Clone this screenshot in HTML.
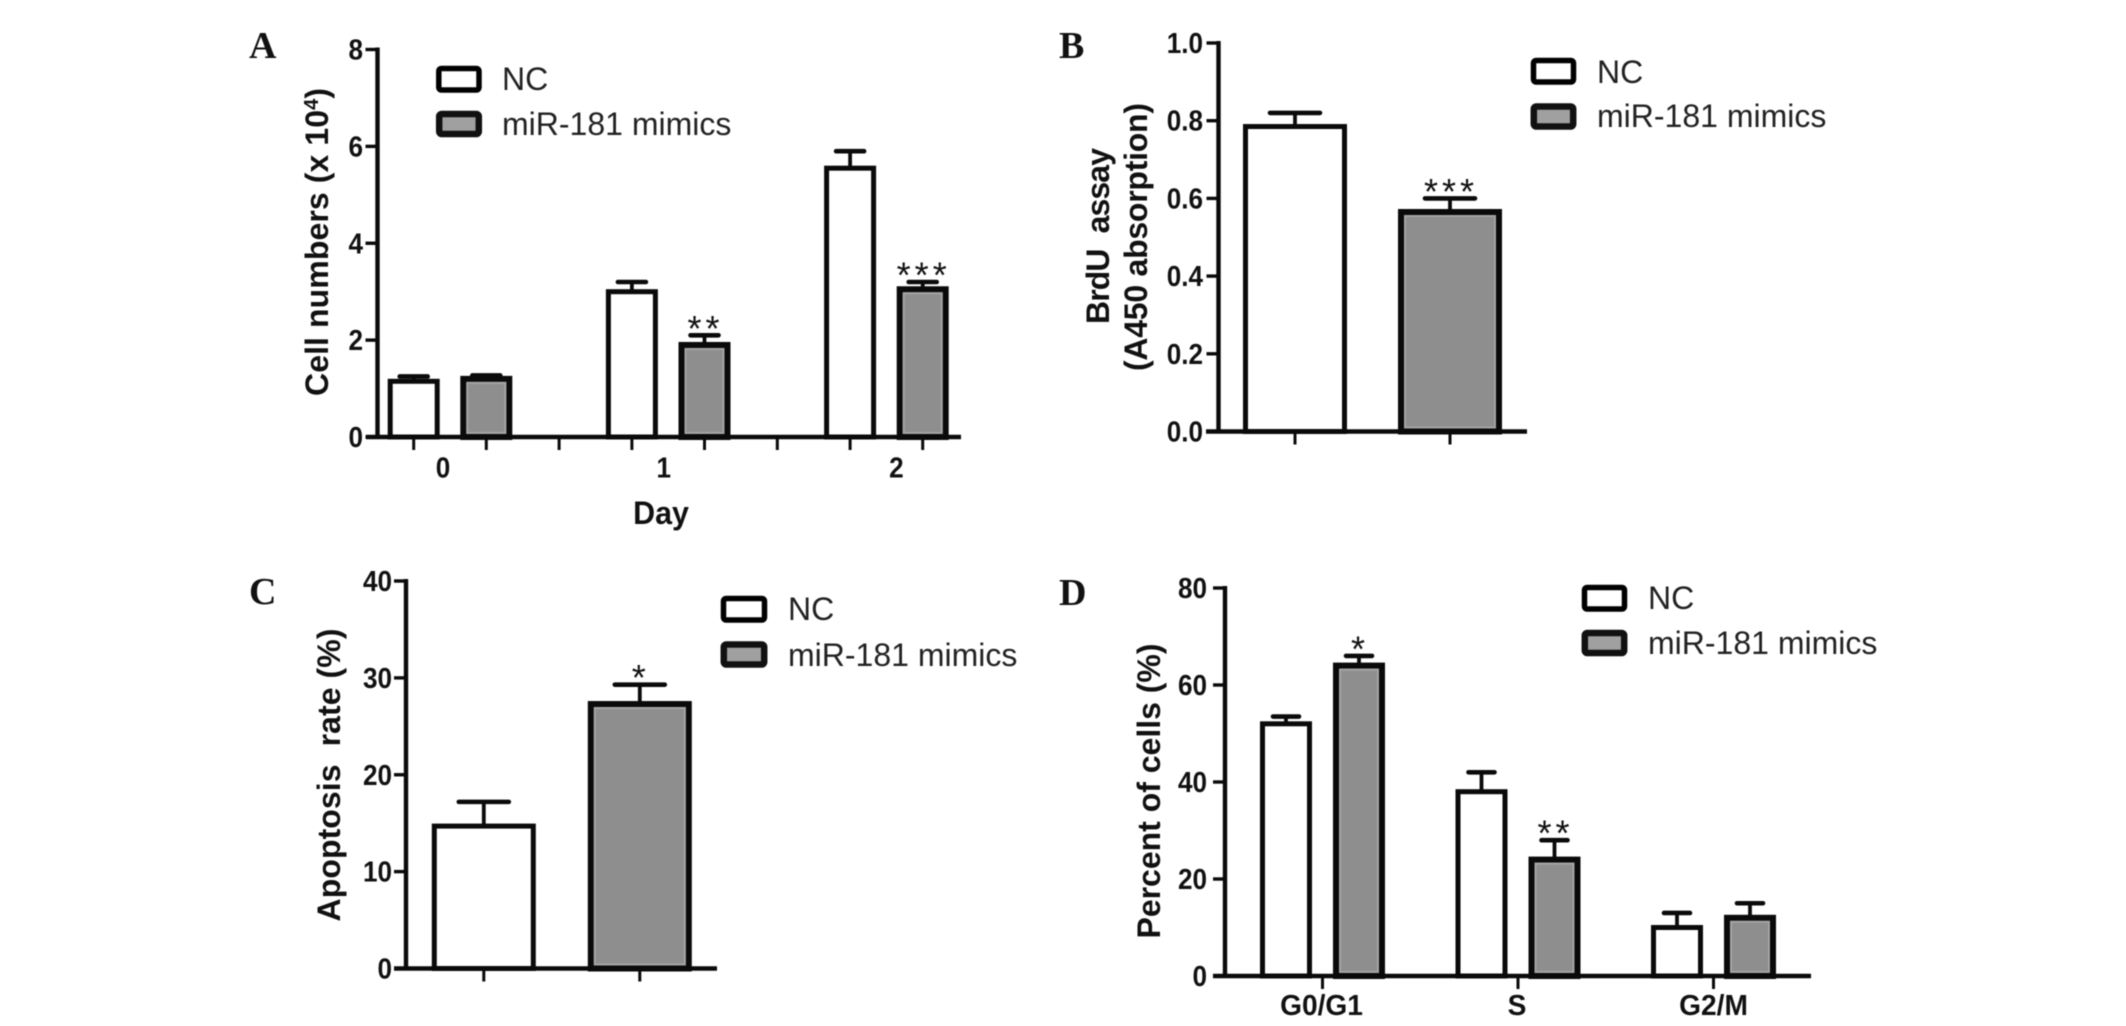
<!DOCTYPE html>
<html lang="en">
<head>
<meta charset="utf-8">
<title>miR-181 mimics cell proliferation, apoptosis and cell cycle charts</title>
<style>
  html, body { margin: 0; padding: 0; background: #fff; }
  #figure { display: block; width: 2126px; height: 1026px; background: #fff; filter: blur(0.5px); }
  text { font-family: "Liberation Sans", Arial, sans-serif; fill: #111; white-space: pre; }
  .panel-letter { font-family: "Liberation Serif", "Times New Roman", serif; font-weight: 700; font-size: 38px; }
  .axis-title { font-weight: 700; font-size: 32px; text-anchor: middle; }
  .legend-label { font-size: 32px; fill: #222; }
  .tick-label { font-weight: 700; font-size: 29px; }
  .swatch-nc { fill: #fff; stroke: #000; stroke-width: 5.5; }
  .swatch-mimic { fill: #a0a0a0; stroke: #111; stroke-width: 6.5; }
</style>
</head>
<body>
<svg id="figure" xmlns="http://www.w3.org/2000/svg" width="2126" height="1026" viewBox="0 0 2126 1026">

  <g id="panel-a">
    <text class="panel-letter" x="249" y="58">A</text>
    <text class="axis-title" transform="translate(328,242) rotate(-90)" textLength="308" lengthAdjust="spacing">Cell numbers (x 10<tspan dy="-10" font-size="20">4</tspan><tspan dy="10">)</tspan></text>
    <text class="axis-title" transform="translate(661,524) scale(0.95,1)" style="font-size:32px">Day</text>
    <g>
      <rect class="swatch-nc" x="438.8" y="68.5" width="40.2" height="21.5" rx="2.5"/>
      <text class="legend-label" x="502" y="90">NC</text>
      <rect class="swatch-mimic" x="439.2" y="114" width="39.6" height="20" rx="2.5"/>
      <text class="legend-label" x="502" y="135">miR-181 mimics</text>
    </g>
  </g>

  <g id="panel-b">
    <text class="panel-letter" x="1059" y="58">B</text>
    <text class="axis-title" transform="translate(1109,236) rotate(-90)" textLength="176" lengthAdjust="spacing">BrdU  assay</text>
    <text class="axis-title" transform="translate(1147,237) rotate(-90)" textLength="268" lengthAdjust="spacing">(A450 absorption)</text>
    <g>
      <rect class="swatch-nc" x="1533.5" y="60.5" width="40" height="21.5" rx="2.5"/>
      <text class="legend-label" x="1597" y="83">NC</text>
      <rect class="swatch-mimic" x="1533.8" y="106.5" width="39.4" height="20" rx="2.5"/>
      <text class="legend-label" x="1597" y="127">miR-181 mimics</text>
    </g>
  </g>

  <g id="panel-c">
    <text class="panel-letter" x="249" y="604">C</text>
    <text class="axis-title" transform="translate(340,775) rotate(-90)" textLength="293" lengthAdjust="spacing">Apoptosis  rate (%)</text>
    <g>
      <rect class="swatch-nc" x="723.5" y="598.5" width="41" height="21.5" rx="2.5"/>
      <text class="legend-label" x="788" y="620">NC</text>
      <rect class="swatch-mimic" x="723.8" y="644.5" width="40.4" height="20" rx="2.5"/>
      <text class="legend-label" x="788" y="666">miR-181 mimics</text>
    </g>
  </g>

  <g id="panel-d">
    <text class="panel-letter" x="1059" y="605">D</text>
    <text class="axis-title" transform="translate(1160,791) rotate(-90)" textLength="295" lengthAdjust="spacing">Percent of cells (%)</text>
    <g>
      <rect class="swatch-nc" x="1584.5" y="587.5" width="40" height="21.5" rx="2.5"/>
      <text class="legend-label" x="1648" y="609">NC</text>
      <rect class="swatch-mimic" x="1584.8" y="633" width="39.4" height="20" rx="2.5"/>
      <text class="legend-label" x="1648" y="654">miR-181 mimics</text>
    </g>
  </g>
</svg>

<script>
// Panel A: cell numbers by day
const panelACategories = ['0', '1', '2'];
const panelATicks = ['0', '2', '4', '6', '8'];
const panelANc = [1.15, 3.0, 5.55];
const panelANcError = [0.1, 0.2, 0.35];
const panelAMimics = [1.2, 1.9, 3.05];
const panelAMimicsError = [0.07, 0.2, 0.15];
const panelAMarks = ['', '**', '***'];

// Panel B: BrdU assay
const panelBCategories = [''];
const panelBTicks = ['0.0', '0.2', '0.4', '0.6', '0.8', '1.0'];
const panelBNc = [0.785];
const panelBNcError = [0.035];
const panelBMimics = [0.565];
const panelBMimicsError = [0.035];
const panelBMarks = ['***'];

// Panel C: apoptosis rate
const panelCCategories = [''];
const panelCTicks = ['0', '10', '20', '30', '40'];
const panelCNc = [14.7];
const panelCNcError = [2.5];
const panelCMimics = [27.3];
const panelCMimicsError = [2.0];
const panelCMarks = ['*'];

// Panel D: percent of cells by cell-cycle phase
const panelDCategories = ['G0/G1', 'S', 'G2/M'];
const panelDTicks = ['0', '20', '40', '60', '80'];
const panelDNc = [52, 38, 10];
const panelDNcError = [1.5, 4, 3];
const panelDMimics = [64, 24, 12];
const panelDMimicsError = [2, 4, 3];
const panelDMarks = ['*', '**', ''];

const SVG_NS = 'http://www.w3.org/2000/svg';

function shape(parent, tag, attrs) {
  const el = document.createElementNS(SVG_NS, tag);
  for (const key in attrs) el.setAttribute(key, attrs[key]);
  parent.appendChild(el);
  return el;
}

function linearScale(domainMax, pxBottom, pxTop) {
  return function (v) { return pxBottom - (v / domainMax) * (pxBottom - pxTop); };
}

function drawPanel(id, data, layout) {
  const root = document.getElementById(id);
  const ticks = data.ticks.map(Number);
  const y = linearScale(Math.max.apply(null, ticks), layout.yBottom, layout.yTop);
  const groupX = function (g) { return layout.firstGroup + g * layout.groupStep; };
  const barX = function (g, s) { return groupX(g) + (s === 0 ? -1 : 1) * layout.barOffset; };

  // bars with error bars
  const seriesList = [
    { values: data.nc, errors: data.ncError, index: 0, fill: '#fff', sw: 5 },
    { values: data.mimics, errors: data.mimicsError, index: 1, fill: '#8e8e8e', sw: 6 }
  ];
  seriesList.forEach(function (series) {
    series.values.forEach(function (value, g) {
      const cx = barX(g, series.index);
      const top = y(value);
      const errTop = y(value + series.errors[g]);

      const stem = shape(root, 'line', { x1: cx, x2: cx, y1: top, y2: errTop, stroke: '#0a0a0a', 'stroke-width': 3.8 });
      
      

      const cap = shape(root, 'line', { x1: cx - layout.capHalf, x2: cx + layout.capHalf, y1: errTop, y2: errTop, stroke: '#0a0a0a', 'stroke-width': 4.6, 'stroke-linecap': 'round' });
      
      

      const w = layout.barWidth - series.sw;
      const bar = shape(root, 'rect', { x: cx - w / 2, y: top, width: w, height: layout.yBottom - top, fill: series.fill, stroke: '#0a0a0a', 'stroke-width': series.sw });
      
      

      if (series.index === 1) {
        const inner = shape(root, 'rect', { x: cx - w / 2 + 4, y: top + 4, width: w - 8, height: Math.max(0, layout.yBottom - top - 8), fill: 'none', stroke: '#a4a4a4', 'stroke-width': 2 });
        
        

        if (data.marks[g]) {
          const star = shape(root, 'text', { x: cx + 1, y: errTop - 12 + 17.5, 'text-anchor': 'middle', 'font-size': 36, 'letter-spacing': 4 });
          
          
          star.textContent = data.marks[g];
        }
      }
    });
  });

  // y axis line
  const yLine = shape(root, 'line', { x1: layout.axisX, x2: layout.axisX, y1: layout.yTop - 2, y2: layout.yBottom, stroke: '#0a0a0a', 'stroke-width': 4.4 });
  
  

  // x axis line
  const xLine = shape(root, 'line', { x1: layout.xStart, x2: layout.xEnd, y1: layout.yBottom, y2: layout.yBottom, stroke: '#0a0a0a', 'stroke-width': 4.6 });
  
  

  // y ticks and labels
  data.ticks.forEach(function (label) {
    const py = y(Number(label));
    const tick = shape(root, 'line', { x1: layout.axisX - 12, x2: layout.axisX, y1: py, y2: py, stroke: '#0a0a0a', 'stroke-width': 3.4 });
    
    

    const text = shape(root, 'text', { class: 'tick-label', transform: 'translate(' + layout.tickLabelX + ',' + (py + 10) + ') scale(0.9,1)', 'text-anchor': 'end' });
    
    
    text.textContent = label;
  });

  // x ticks
  const tickDown = function (px) {
    const tick = shape(root, 'line', { x1: px, x2: px, y1: layout.yBottom, y2: layout.yBottom + 13, stroke: '#0a0a0a', 'stroke-width': 3 });
    
    
  };
  data.categories.forEach(function (category, g) {
    if (layout.tickAtGroup) {
      tickDown(groupX(g));
    } else {
      tickDown(barX(g, 0));
      tickDown(barX(g, 1));
      if (layout.tickBetween && g < data.categories.length - 1) {
        tickDown(groupX(g) + layout.groupStep / 2);
      }
    }
    if (category) {
      const text = shape(root, 'text', { class: 'tick-label', transform: 'translate(' + (groupX(g) + layout.labelNudge[g]) + ',' + layout.labelY + ') scale(' + layout.labelScale + ',1)', 'text-anchor': 'middle' });
      
      
      text.textContent = category;
    }
  });
}

drawPanel('panel-a',
  { categories: panelACategories, ticks: panelATicks, nc: panelANc, ncError: panelANcError, mimics: panelAMimics, mimicsError: panelAMimicsError, marks: panelAMarks },
  { axisX: 377.5, yBottom: 437, yTop: 49.5, xStart: 366, xEnd: 961, firstGroup: 450, groupStep: 218.2, barOffset: 36.3, barWidth: 52, capHalf: 14, tickLabelX: 363, tickBetween: true, labelNudge: [-7, -4.5, 10], labelY: 477.5, labelScale: 0.9 });

drawPanel('panel-b',
  { categories: panelBCategories, ticks: panelBTicks, nc: panelBNc, ncError: panelBNcError, mimics: panelBMimics, mimicsError: panelBMimicsError, marks: panelBMarks },
  { axisX: 1218.5, yBottom: 431.5, yTop: 43, xStart: 1206, xEnd: 1527, firstGroup: 1372.5, groupStep: 0, barOffset: 77.5, barWidth: 104, capHalf: 25, tickLabelX: 1203, labelNudge: [0], labelY: 0, labelScale: 0.9 });

drawPanel('panel-c',
  { categories: panelCCategories, ticks: panelCTicks, nc: panelCNc, ncError: panelCNcError, mimics: panelCMimics, mimicsError: panelCMimicsError, marks: panelCMarks },
  { axisX: 406, yBottom: 968.5, yTop: 581, xStart: 394, xEnd: 717, firstGroup: 561.8, groupStep: 0, barOffset: 78, barWidth: 104, capHalf: 25, tickLabelX: 392, labelNudge: [0], labelY: 0, labelScale: 0.9 });

drawPanel('panel-d',
  { categories: panelDCategories, ticks: panelDTicks, nc: panelDNc, ncError: panelDNcError, mimics: panelDMimics, mimicsError: panelDMimicsError, marks: panelDMarks },
  { axisX: 1225, yBottom: 976, yTop: 588, xStart: 1213, xEnd: 1811, firstGroup: 1322.5, groupStep: 195.5, barOffset: 36.5, barWidth: 52, capHalf: 13, tickLabelX: 1207, tickAtGroup: true, labelNudge: [-1, -1, 0], labelY: 1015, labelScale: 0.97 });
</script>
</body>
</html>
